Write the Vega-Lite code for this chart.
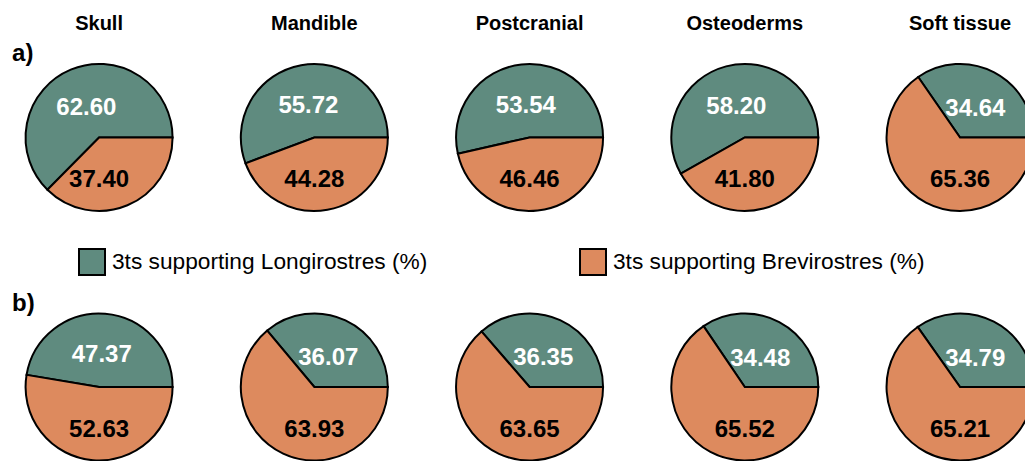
{
  "$schema": "https://vega.github.io/schema/vega-lite/v6.json",
  "width": 1025,
  "height": 461,
  "autosize": "none",
  "padding": 0,
  "background": "white",
  "config": {"view": {"stroke": null}, "font": "Liberation Sans"},
  "datasets": {
    "shares": [
      {"row": "a", "part": "Skull", "group": "3ts supporting Longirostres (%)", "pct": 62.60},
      {"row": "a", "part": "Skull", "group": "3ts supporting Brevirostres (%)", "pct": 37.40},
      {"row": "a", "part": "Mandible", "group": "3ts supporting Longirostres (%)", "pct": 55.72},
      {"row": "a", "part": "Mandible", "group": "3ts supporting Brevirostres (%)", "pct": 44.28},
      {"row": "a", "part": "Postcranial", "group": "3ts supporting Longirostres (%)", "pct": 53.54},
      {"row": "a", "part": "Postcranial", "group": "3ts supporting Brevirostres (%)", "pct": 46.46},
      {"row": "a", "part": "Osteoderms", "group": "3ts supporting Longirostres (%)", "pct": 58.20},
      {"row": "a", "part": "Osteoderms", "group": "3ts supporting Brevirostres (%)", "pct": 41.80},
      {"row": "a", "part": "Soft tissue", "group": "3ts supporting Longirostres (%)", "pct": 34.64},
      {"row": "a", "part": "Soft tissue", "group": "3ts supporting Brevirostres (%)", "pct": 65.36},
      {"row": "b", "part": "Skull", "group": "3ts supporting Longirostres (%)", "pct": 47.37},
      {"row": "b", "part": "Skull", "group": "3ts supporting Brevirostres (%)", "pct": 52.63},
      {"row": "b", "part": "Mandible", "group": "3ts supporting Longirostres (%)", "pct": 36.07},
      {"row": "b", "part": "Mandible", "group": "3ts supporting Brevirostres (%)", "pct": 63.93},
      {"row": "b", "part": "Postcranial", "group": "3ts supporting Longirostres (%)", "pct": 36.35},
      {"row": "b", "part": "Postcranial", "group": "3ts supporting Brevirostres (%)", "pct": 63.65},
      {"row": "b", "part": "Osteoderms", "group": "3ts supporting Longirostres (%)", "pct": 34.48},
      {"row": "b", "part": "Osteoderms", "group": "3ts supporting Brevirostres (%)", "pct": 65.52},
      {"row": "b", "part": "Soft tissue", "group": "3ts supporting Longirostres (%)", "pct": 34.79},
      {"row": "b", "part": "Soft tissue", "group": "3ts supporting Brevirostres (%)", "pct": 65.21}
    ],
    "panels": [
      {"part": "Skull"}, {"part": "Mandible"}, {"part": "Postcranial"}, {"part": "Osteoderms"}, {"part": "Soft tissue"}
    ],
    "rows": [
      {"row": "a", "label": "a)"},
      {"row": "b", "label": "b)"}
    ]
  },
  "encoding": {
    "x": {
      "field": "part", "type": "nominal", "axis": null,
      "scale": {"type": "point", "domain": ["Skull", "Mandible", "Postcranial", "Osteoderms", "Soft tissue"], "padding": 0.381, "align": 0.604}
    },
    "y": {
      "field": "row", "type": "nominal", "axis": null,
      "scale": {"type": "point", "domain": ["a", "b"], "padding": 0.4238, "align": 0.65}
    }
  },
  "layer": [
    {
      "data": {"name": "shares"},
      "transform": [
        {"stack": "pct", "groupby": ["row", "part"], "sort": [{"field": "group", "order": "ascending"}], "as": ["v0", "v1"]}
      ],
      "mark": {"type": "arc", "outerRadius": 73.5, "stroke": "black", "strokeWidth": 2},
      "encoding": {
        "theta": {"field": "v0", "type": "quantitative", "scale": {"domain": [0, 100], "range": [1.5707963, 7.8539816]}},
        "theta2": {"field": "v1"},
        "color": {
          "field": "group", "type": "nominal",
          "scale": {"domain": ["3ts supporting Longirostres (%)", "3ts supporting Brevirostres (%)"], "range": ["#5f8b7f", "#dd8a5e"]},
          "legend": {
            "title": null, "orient": "none", "legendX": 78, "legendY": 248, "direction": "horizontal",
            "symbolType": "square", "symbolSize": 676, "symbolStrokeColor": "black", "symbolStrokeWidth": 2,
            "symbolOpacity": 1, "labelFontSize": 22.7, "labelFont": "Liberation Sans", "labelColor": "black",
            "labelLimit": 600, "labelOffset": 6, "columnPadding": 148
          }
        }
      }
    },
    {
      "data": {"name": "shares"},
      "transform": [
        {"stack": "pct", "groupby": ["row", "part"], "sort": [{"field": "group", "order": "ascending"}], "as": ["v0", "v1"]},
        {"filter": "datum.group === '3ts supporting Longirostres (%)'"},
        {"calculate": "(datum.v0 + datum.v1) / 2", "as": "mid"}
      ],
      "mark": {"type": "text", "radius": 33, "dy": 1, "fill": "white", "fontSize": 24, "fontWeight": "bold", "align": "center", "baseline": "middle"},
      "encoding": {
        "theta": {"field": "mid", "type": "quantitative", "scale": {"domain": [0, 100], "range": [1.5707963, 7.8539816]}},
        "text": {"field": "pct", "type": "quantitative", "format": ".2f"}
      }
    },
    {
      "data": {"name": "shares"},
      "transform": [
        {"filter": "datum.group === '3ts supporting Brevirostres (%)'"}
      ],
      "mark": {"type": "text", "dy": 43, "fill": "black", "fontSize": 24, "fontWeight": "bold", "align": "center", "baseline": "middle"},
      "encoding": {
        "text": {"field": "pct", "type": "quantitative", "format": ".2f"}
      }
    },
    {
      "data": {"name": "panels"},
      "mark": {"type": "text", "dy": -113, "fill": "black", "fontSize": 20, "fontWeight": "bold", "align": "center", "baseline": "middle"},
      "encoding": {
        "y": {"datum": "a", "type": "nominal"},
        "text": {"field": "part"}
      }
    },
    {
      "data": {"name": "rows"},
      "mark": {"type": "text", "dx": -87, "dy": -83, "fill": "black", "fontSize": 24, "fontWeight": "bold", "align": "left", "baseline": "middle"},
      "encoding": {
        "x": {"datum": "Skull", "type": "nominal"},
        "text": {"field": "label"}
      }
    }
  ]
}
